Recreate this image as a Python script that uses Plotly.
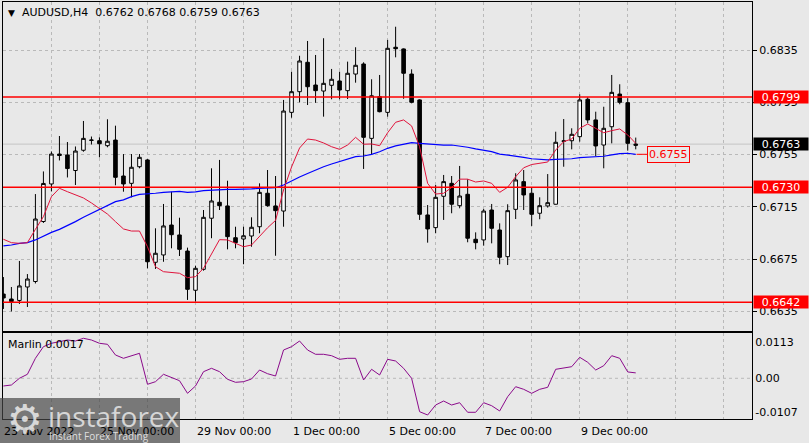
import plotly.graph_objects as go

symbol = "AUDUSD,H4"

opens = [0.66483, 0.66445, 0.66434, 0.66537, 0.66579, 0.67038, 0.67325, 0.67554, 0.67547, 0.67428,
         0.67583, 0.67658, 0.67656, 0.67618, 0.67661, 0.67386, 0.67330, 0.67457, 0.67509, 0.66726,
         0.66782, 0.67011, 0.66935, 0.66812, 0.66512, 0.66672, 0.67063, 0.67185, 0.67157, 0.66914,
         0.66904, 0.66927, 0.66998, 0.67254, 0.67157, 0.67118, 0.67873, 0.68031, 0.68256, 0.68082,
         0.68036, 0.68080, 0.68113, 0.68039, 0.68166, 0.68243, 0.67674, 0.67993, 0.67873, 0.68371,
         0.68358, 0.68166, 0.67968, 0.67088, 0.66991, 0.67231, 0.67330, 0.67159, 0.67246, 0.66902,
         0.66897, 0.67126, 0.66973, 0.66769, 0.67131, 0.67343, 0.67254, 0.67101, 0.67157, 0.67170,
         0.67652, 0.67656, 0.67687, 0.67973, 0.67815, 0.67623, 0.67763, 0.68013, 0.67947, 0.6762]

highs = [0.66613, 0.66537, 0.66736, 0.66636, 0.67248, 0.67421, 0.67574, 0.67692, 0.67646, 0.67612,
         0.67807, 0.67688, 0.67682, 0.67820, 0.67771, 0.67554, 0.67554, 0.67554, 0.67516, 0.66986,
         0.67172, 0.67266, 0.67067, 0.66838, 0.66700, 0.67126, 0.67445, 0.67509, 0.67350, 0.66998,
         0.66998, 0.67070, 0.67330, 0.67432, 0.67386, 0.67968, 0.68184, 0.68306, 0.68419, 0.68312,
         0.68440, 0.68205, 0.68184, 0.68261, 0.68371, 0.68256, 0.68126, 0.68159, 0.68427, 0.68528,
         0.68362, 0.68202, 0.67973, 0.67164, 0.67317, 0.67394, 0.67386, 0.67463, 0.67361, 0.66955,
         0.67134, 0.67172, 0.67024, 0.67170, 0.67407, 0.67432, 0.67297, 0.67223, 0.67401, 0.67725,
         0.67822, 0.67751, 0.68011, 0.67988, 0.67878, 0.67916, 0.68159, 0.68088, 0.67981, 0.6768]

lows = [0.66369, 0.66350, 0.66407, 0.66384, 0.66564, 0.67027, 0.67268, 0.67505, 0.67375, 0.67317,
        0.67572, 0.67627, 0.67529, 0.67606, 0.67315, 0.67266, 0.67223, 0.67445, 0.66680, 0.66675,
        0.66730, 0.66833, 0.66774, 0.66438, 0.66425, 0.66662, 0.66910, 0.67126, 0.66825, 0.66833,
        0.66711, 0.66845, 0.66948, 0.67151, 0.66776, 0.66998, 0.67832, 0.67950, 0.67929, 0.67946,
        0.67840, 0.67973, 0.67973, 0.67975, 0.68100, 0.67440, 0.67547, 0.67873, 0.67840, 0.68294,
        0.67977, 0.67942, 0.67050, 0.66876, 0.66948, 0.67050, 0.67101, 0.67139, 0.66879, 0.66825,
        0.66853, 0.66871, 0.66711, 0.66705, 0.67057, 0.67126, 0.67004, 0.67055, 0.67144, 0.67168,
        0.67457, 0.67590, 0.67649, 0.67789, 0.67539, 0.67445, 0.67636, 0.67935, 0.67580, 0.6759]

closes = [0.66453, 0.66426, 0.66545, 0.66598, 0.67057, 0.67329, 0.67554, 0.67543, 0.67443, 0.67577,
          0.67674, 0.67661, 0.67633, 0.67652, 0.67376, 0.67325, 0.67453, 0.67529, 0.66730, 0.66795,
          0.67004, 0.66937, 0.66825, 0.66519, 0.66680, 0.67070, 0.67195, 0.67159, 0.66922, 0.66876,
          0.66929, 0.66994, 0.67261, 0.67159, 0.67121, 0.67883, 0.68031, 0.68266, 0.68069, 0.68039,
          0.68095, 0.68126, 0.68044, 0.68172, 0.68233, 0.67682, 0.68000, 0.67878, 0.68363, 0.68360,
          0.68172, 0.67950, 0.67093, 0.66981, 0.67223, 0.67343, 0.67170, 0.67233, 0.66910, 0.66876,
          0.67118, 0.66986, 0.66764, 0.67121, 0.67356, 0.67241, 0.67093, 0.67159, 0.67182, 0.67644,
          0.67654, 0.67705, 0.67968, 0.67815, 0.67616, 0.67751, 0.68026, 0.67950, 0.67636, 0.6763]

ma_fast = [0.66902, 0.66876, 0.66871, 0.66876, 0.66978, 0.67075, 0.67228, 0.67292, 0.67266, 0.67241,
           0.67218, 0.67180, 0.67134, 0.67095, 0.67037, 0.66981, 0.66965, 0.66965, 0.66845, 0.66692,
           0.66654, 0.66649, 0.66642, 0.66608, 0.66616, 0.66680, 0.66795, 0.66899, 0.66897, 0.66871,
           0.66845, 0.66858, 0.66925, 0.66990, 0.67046, 0.67279, 0.67455, 0.67600, 0.67669, 0.67661,
           0.67639, 0.67610, 0.67590, 0.67623, 0.67682, 0.67629, 0.67631, 0.67618, 0.67717, 0.67797,
           0.67815, 0.67769, 0.67610, 0.67330, 0.67248, 0.67254, 0.67298, 0.67362, 0.67362, 0.67340,
           0.67348, 0.67330, 0.67261, 0.67300, 0.67381, 0.67449, 0.67474, 0.67486, 0.67493, 0.67585,
           0.67649, 0.67669, 0.67751, 0.67784, 0.67751, 0.67717, 0.67733, 0.67746, 0.67700, 0.67636]

ma_slow = [0.66851, 0.66858, 0.66871, 0.66876, 0.66897, 0.66927, 0.66955, 0.66978, 0.67006, 0.67037,
           0.67070, 0.67101, 0.67131, 0.67164, 0.67190, 0.67203, 0.67228, 0.67246, 0.67248, 0.67254,
           0.67261, 0.67266, 0.67269, 0.67261, 0.67264, 0.67274, 0.67279, 0.67279, 0.67284, 0.67284,
           0.67284, 0.67287, 0.67292, 0.67294, 0.67296, 0.67317, 0.67349, 0.67379, 0.67405, 0.67434,
           0.67457, 0.67478, 0.67495, 0.67514, 0.67534, 0.67539, 0.67552, 0.67572, 0.67598, 0.67616,
           0.67631, 0.67641, 0.67636, 0.67631, 0.67625, 0.67623, 0.67623, 0.67616, 0.67606, 0.67593,
           0.67585, 0.67572, 0.67554, 0.67547, 0.67539, 0.67529, 0.67518, 0.67514, 0.67509, 0.67514,
           0.67516, 0.67518, 0.67526, 0.67529, 0.67531, 0.67537, 0.67547, 0.67557, 0.67560, 0.67552]

marlin = [-0.00242, -0.00211, 0.0, 0.00126, 0.00629, 0.00994, 0.01101, 0.01151, 0.01204, 0.01173,
          0.01258, 0.01204, 0.01101, 0.01069, 0.00733, 0.00629, 0.00711, 0.00786, -0.00189, -0.00107,
          0.00126, 0.00031, -0.00075, -0.00472, -0.00242, 0.00208, 0.00314, 0.00208, -0.00031, -0.00126,
          -0.00107, -0.00022, 0.00261, 0.00145, 0.00072, 0.00890, 0.00994, 0.01173, 0.00890, 0.00755,
          0.00755, 0.00711, 0.00597, 0.00629, 0.00629, -0.00053, 0.00283, 0.00104, 0.00597, 0.00544,
          0.00314, 0.0, -0.01050, -0.01154, -0.00840, -0.00714, -0.00840, -0.00767, -0.01069, -0.01069,
          -0.00767, -0.00862, -0.01028, -0.00579, -0.00264, -0.00346, -0.00472, -0.00346, -0.00283, 0.00283,
          0.00314, 0.00365, 0.00660, 0.00503, 0.00261, 0.00396, 0.00711, 0.00629, 0.00200, 0.0017]

levels = [0.6799, 0.6730, 0.6642]
price_ticks = [0.6835, 0.6795, 0.6755, 0.6715, 0.6675, 0.6635]
marlin_ticks = [0.0113, 0.0, -0.0107]
marlin_ticktext = ["0.0113", "0.00", "-0.0107"]
date_labels = ["23 Nov 2022", "25 Nov 00:00", "29 Nov 00:00", "1 Dec 00:00",
               "5 Dec 00:00", "7 Dec 00:00", "9 Dec 00:00"]
date_label_idx = [0, 12, 24, 36, 48, 60, 72]

# ---- styling / layout constants ----
BG = "#e8e8e8"
GRID = "#b9b9b9"
FONT = "DejaVu Sans"
W, H = 809, 443
L, R, T, B = 3, 57, 2, 24
PW, PH = W - L - R, H - T - B
MAIN_BOTTOM_PX, SUB_TOP_PX = 331, 333


def fx(px):
    return (px - L) / PW


def fy(py):
    return (H - B - py) / PH


n = len(closes)
idx = list(range(n))
grid_idx = list(range(0, 96, 6))

fig = go.Figure()

fig.add_trace(go.Candlestick(
    x=idx, open=opens, high=highs, low=lows, close=closes,
    increasing=dict(line=dict(color="black", width=1), fillcolor="white"),
    decreasing=dict(line=dict(color="black", width=1), fillcolor="black"),
    whiskerwidth=0, xaxis="x", yaxis="y", hoverinfo="skip",
))
fig.add_trace(go.Scatter(x=idx, y=ma_slow, mode="lines",
                         line=dict(color="#0000ff", width=1.2), xaxis="x", yaxis="y"))
fig.add_trace(go.Scatter(x=idx, y=ma_fast, mode="lines",
                         line=dict(color="#e0143c", width=1), xaxis="x", yaxis="y"))
fig.add_trace(go.Scatter(x=idx, y=marlin, mode="lines",
                         line=dict(color="#8b0a8b", width=1), xaxis="x2", yaxis="y2"))

axis_common = dict(showline=True, mirror=True, linecolor="black", linewidth=1,
                   zeroline=False)

fig.update_layout(
    width=W, height=H,
    margin=dict(l=L, r=R, t=T, b=B, autoexpand=False),
    paper_bgcolor=BG, plot_bgcolor=BG,
    showlegend=False,
    font=dict(family=FONT, size=11, color="black"),
    boxgap=0.36,
    xaxis=dict(domain=[0, 1], anchor="y", range=[-0.05, (PW - 0.4) / 8 - 0.05],
               tickvals=grid_idx, showticklabels=False, ticks="",
               showgrid=True, gridcolor=GRID, griddash="3px,3px", gridwidth=1,
               rangeslider=dict(visible=False), **axis_common),
    yaxis=dict(domain=[fy(MAIN_BOTTOM_PX), 1], anchor="x", side="right",
               range=[0.662003, 0.687172],
               tickvals=price_ticks, ticktext=[f"{v:.4f}" for v in price_ticks],
               ticks="outside", ticklen=4, tickcolor="black",
               showgrid=True, gridcolor=GRID, griddash="3px,3px", gridwidth=1,
               **axis_common),
    xaxis2=dict(domain=[0, 1], anchor="y2", matches="x",
                tickvals=grid_idx, showticklabels=False, ticks="",
                showgrid=True, gridcolor=GRID, griddash="3px,3px", gridwidth=1,
                **axis_common),
    yaxis2=dict(domain=[0, fy(SUB_TOP_PX)], anchor="x2", side="right",
                range=[-0.012799, 0.014245],
                tickvals=marlin_ticks, ticktext=marlin_ticktext,
                ticks="", showgrid=False, **axis_common),
)

shapes = []
# zero line in oscillator
shapes.append(dict(type="line", xref="paper", x0=0, x1=1, yref="y2", y0=0, y1=0,
                   line=dict(color=GRID, width=1, dash="3px,3px"), layer="below"))
# current price line
shapes.append(dict(type="line", xref="paper", x0=0, x1=1, yref="y",
                   y0=closes[-1], y1=closes[-1],
                   line=dict(color="#c4c4c4", width=1), layer="below"))
# horizontal levels
for lv in levels:
    shapes.append(dict(type="line", xref="paper", x0=0, x1=1, yref="y", y0=lv, y1=lv,
                       line=dict(color="#ff0000", width=1.5), layer="above"))
# connector to MA value label
shapes.append(dict(type="line", xref="x", x0=n - 1 + 0.1, x1=n - 1 + 1.4, yref="y",
                   y0=ma_slow[-1], y1=ma_slow[-1],
                   line=dict(color="#ff0000", width=1), layer="above"))
# watermark box
shapes.append(dict(type="rect", xref="paper", yref="paper",
                   x0=fx(0), x1=fx(180), y0=fy(443), y1=fy(398),
                   fillcolor="rgba(70,70,70,0.69)", line=dict(width=0), layer="above"))
fig.update_layout(shapes=shapes)

ann = []
# title
ann.append(dict(xref="paper", yref="paper", x=fx(6), y=1, xanchor="left", yanchor="middle",
                yshift=-10.5, text="▼", showarrow=False, font=dict(size=9, color="black")))
ann.append(dict(xref="paper", yref="paper", x=fx(20), y=1, xanchor="left", yanchor="middle",
                yshift=-10.5, showarrow=False, font=dict(size=11, color="black"),
                text=f"{symbol}  {opens[-1]:.4f} {highs[-1]:.4f} {lows[-1]:.4f} {closes[-1]:.4f}"))
# oscillator label
ann.append(dict(xref="paper", yref="paper", x=fx(6), y=fy(SUB_TOP_PX), xanchor="left",
                yanchor="middle", yshift=-11, showarrow=False,
                text=f"Marlin {marlin[-1]:.4f}", font=dict(size=11, color="black")))
# date labels
for t, i in zip(date_labels, date_label_idx):
    ann.append(dict(xref="x", yref="paper", x=i, y=0, xanchor="left", yanchor="middle",
                    xshift=-1, yshift=-12, text=t, showarrow=False,
                    font=dict(size=11, color="black")))
# right-hand price boxes
for lv in levels:
    ann.append(dict(xref="paper", yref="y", x=1, y=lv, xanchor="left", yanchor="middle",
                    xshift=1, text=f"{lv:.4f}", showarrow=False, bgcolor="#ff0000",
                    width=54, height=12, borderpad=0, align="center",
                    font=dict(size=11, color="white")))
ann.append(dict(xref="paper", yref="y", x=1, y=closes[-1], xanchor="left", yanchor="middle",
                xshift=1, text=f"{closes[-1]:.4f}", showarrow=False, bgcolor="black",
                width=54, height=12, borderpad=0, align="center",
                font=dict(size=11, color="white")))
# MA value label
ann.append(dict(xref="x", yref="y", x=n - 1 + 1.4, y=ma_slow[-1], xanchor="left",
                yanchor="middle", text=f"{ma_slow[-1]:.4f}", showarrow=False,
                bordercolor="#ff0000", borderwidth=1, borderpad=1, bgcolor=BG,
                font=dict(size=11, color="#ff0000")))
# watermark
ann.append(dict(xref="paper", yref="paper", x=fx(25), y=fy(419), xanchor="center",
                yanchor="middle", text="⚙", showarrow=False,
                font=dict(family="DejaVu Sans", size=40, color="rgba(230,230,230,0.9)")))
ann.append(dict(xref="paper", yref="paper", x=fx(46), y=fy(416), xanchor="left",
                yanchor="middle", text="instaforex", showarrow=False,
                font=dict(family="Open Sans", size=28, color="rgba(228,228,228,0.88)")))
ann.append(dict(xref="paper", yref="paper", x=fx(47), y=fy(436), xanchor="left",
                yanchor="middle", text="Instant Forex Trading", showarrow=False,
                font=dict(family="Open Sans", size=10, color="rgba(235,235,235,0.9)")))
fig.update_layout(annotations=ann)

fig.write_html("out.html",
               config={"displayModeBar": False, "staticPlot": True},
               post_script="document.body.style.margin='0';document.body.style.overflow='hidden';")
